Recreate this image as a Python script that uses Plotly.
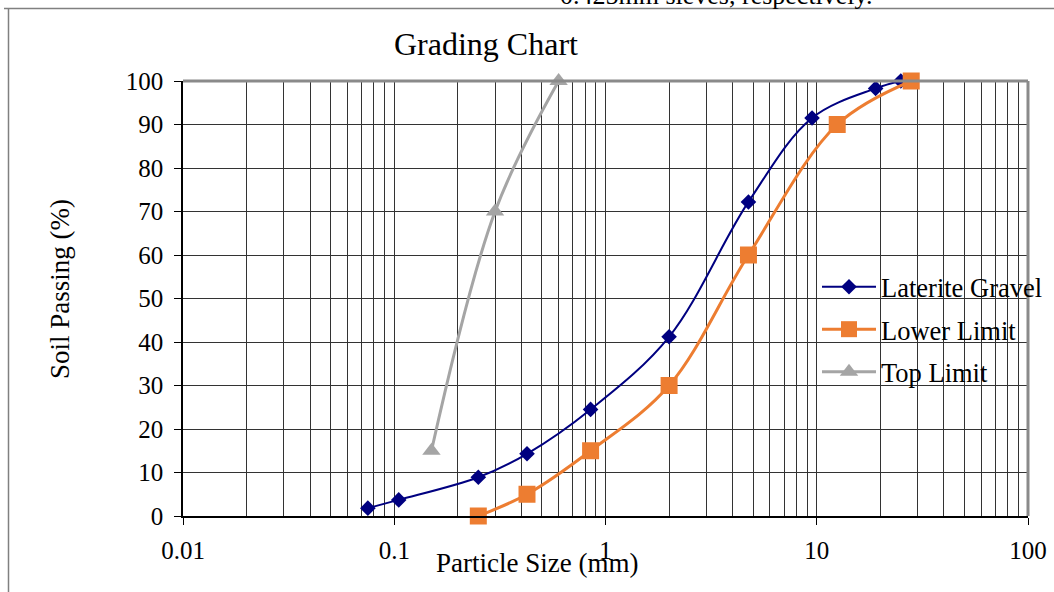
import plotly.graph_objects as go

# Sieve analysis results (particle size in mm, percent passing)
gravel_size = [0.075, 0.105, 0.25, 0.425, 0.85, 2.0, 4.75, 9.5, 19.0, 25.0]
gravel_pass = [1.8, 3.7, 8.9, 14.3, 24.5, 41.2, 72.2, 91.5, 98.3, 100.0]

lower_size = [0.25, 0.425, 0.85, 2.0, 4.75, 12.5, 28.0]
lower_pass = [0, 5, 15, 30, 60, 90, 100]

top_size = [0.15, 0.3, 0.6]
top_pass = [15, 70, 100]

x_ticks = [0.01, 0.1, 1, 10, 100]
x_tick_text = ["0.01", "0.1", "1", "10", "100"]
y_ticks = list(range(0, 101, 10))

W, H = 1054, 592
ML, MR, MT, MB = 183, 26, 81, 76
PW, PH = W - ML - MR, H - MT - MB

FONT = "Liberation Serif, Times New Roman, serif"


def px(x):
    return (x - ML) / PW


def py(y):
    return (H - MB - y) / PH


fig = go.Figure()
fig.add_trace(go.Scatter(
    x=gravel_size, y=gravel_pass, name="Laterite Gravel", legendgroup="a",
    mode="lines+markers", line=dict(color="#000080", width=2, shape="spline"),
    marker=dict(symbol="diamond", size=12, color="#000080"), cliponaxis=False))
fig.add_trace(go.Scatter(
    x=lower_size, y=lower_pass, name="Lower Limit", legendgroup="b",
    mode="lines+markers", line=dict(color="#ED7D31", width=3, shape="spline"),
    marker=dict(symbol="square", size=17, color="#ED7D31"), cliponaxis=False))
fig.add_trace(go.Scatter(
    x=top_size, y=top_pass, name="Top Limit", legendgroup="c",
    mode="lines+markers", line=dict(color="#A5A5A5", width=3, shape="spline"),
    marker=dict(symbol="triangle-up", size=16, color="#A5A5A5"), cliponaxis=False))

minor_vals = [m * 10 ** e for e in range(-2, 2) for m in range(2, 10)]

fig.update_xaxes(
    type="log", range=[-2, 2], tickvals=x_ticks, ticktext=x_tick_text,
    ticks="outside", ticklen=7, tickcolor="black", tickwidth=1,
    showline=True, linecolor="black", linewidth=1.5,
    showgrid=True, gridcolor="#333333", gridwidth=1,
    minor=dict(tickvals=minor_vals, showgrid=True, gridcolor="#333333", gridwidth=1, ticks=""),
    tickfont=dict(family=FONT, size=25, color="black"), zeroline=False,
    ticklabelstandoff=4, automargin=False)
fig.update_yaxes(
    range=[0, 100], tickvals=y_ticks, ticks="outside", ticklen=7,
    tickcolor="black", tickwidth=1, showline=True, linecolor="black", linewidth=1.5,
    showgrid=True, gridcolor="#333333", gridwidth=1,
    tickfont=dict(family=FONT, size=25, color="black"), zeroline=False,
    ticklabelstandoff=6, automargin=False)

shapes = [
    # plot area frame (top and right)
    dict(type="line", xref="paper", yref="paper", x0=0, x1=1, y0=1, y1=1,
         line=dict(color="#8a8a8a", width=3)),
    dict(type="line", xref="paper", yref="paper", x0=1, x1=1, y0=0, y1=1,
         line=dict(color="#8a8a8a", width=3)),
    # chart border
    dict(type="line", xref="paper", yref="paper", x0=px(4), x1=px(W), y0=py(8.5), y1=py(8.5),
         line=dict(color="#808080", width=1.5)),
    dict(type="line", xref="paper", yref="paper", x0=px(8.5), x1=px(8.5), y0=py(8.5), y1=py(H),
         line=dict(color="#808080", width=1.5)),
]


def label(text, x, y, size, **kw):
    return dict(text=text, x=px(x), y=py(y), xref="paper", yref="paper",
                xanchor="center", yanchor="middle", showarrow=False,
                font=dict(family=FONT, size=size, color="black"), **kw)


annotations = [
    label("Grading Chart", 486, 44, 32),
    label("Particle Size (mm)", 537, 563, 27),
    label("Soil Passing (%)", 60, 289, 27, textangle=-90),
    label("0.425mm sieves, respectively.", 716, -4, 26),
]

fig.update_layout(
    width=W, height=H, margin=dict(l=ML, r=MR, t=MT, b=MB, autoexpand=False),
    paper_bgcolor="white", plot_bgcolor="white",
    shapes=shapes, annotations=annotations,
    legend=dict(x=px(817), y=py(263), xanchor="left", yanchor="top",
                bgcolor="rgba(0,0,0,0)", itemwidth=54, tracegroupgap=5,
                font=dict(family=FONT, size=26.5, color="black")),
)

fig.write_html("out.html")
